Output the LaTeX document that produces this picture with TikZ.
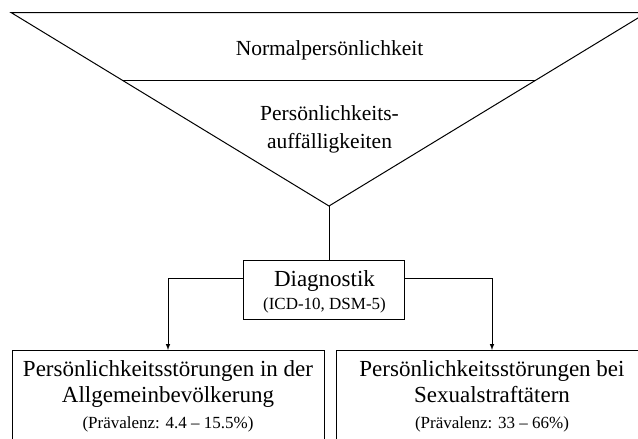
\documentclass[tikz,border=0pt]{standalone}
\usepackage{fontspec}
\setmainfont{Liberation Serif}
\usetikzlibrary{calc}
\newcommand{\bigtext}{\fontsize{23}{23}\selectfont}
\newcommand{\midtext}{\fontsize{21.5}{21.5}\selectfont}
\newcommand{\smalltext}{\fontsize{17}{17}\selectfont}

\begin{document}
\begin{tikzpicture}[x=1pt,y=-1pt,line width=1pt,outer sep=0,
    groupbox/.style={draw,inner sep=0,minimum width=312pt,minimum height=100pt,anchor=north}]
        \useasboundingbox (0,0) rectangle (638,439);
        \clip (0,0) rectangle (638,439);
        % Funnel
        \coordinate (TopLeft) at (11,12.5);
        \coordinate (TopRight) at (647,12.5);
        \coordinate (Apex) at (329,206);
        \draw (TopLeft) -- (TopRight) -- (Apex) -- cycle;
        \draw ($(TopLeft)!0.349!(Apex)$) -- ($(TopRight)!0.349!(Apex)$);
        \node[anchor=base] (Normal) at (329.5,55) {\midtext Normalpersönlichkeit};
        \node[anchor=base] (AuffA) at (329.5,120) {\midtext Persönlichkeits-};
        \node[anchor=base] (AuffB) at (329.5,148) {\midtext auffälligkeiten};
        % Diagnostik
        \node[draw,inner sep=0,minimum width=161pt,minimum height=59pt] (Diag) at (323.5,289.5) {};
        \node[anchor=base] (DiagA) at (324.5,286) {\bigtext Diagnostik};
        \node[anchor=base] (DiagB) at (324.5,309) {\smalltext (ICD-10, DSM-5)};
        % Groups
        \node[groupbox] (General) at (168,350) {};
        \node[anchor=base] (GeneralA) at (168,376) {\bigtext Persönlichkeitsstörungen in der};
        \node[anchor=base] (GeneralB) at (168,402) {\bigtext Allgemeinbevölkerung};
        \node[anchor=base] (GeneralC) at (168,428) {\smalltext (Prävalenz: 4.4 -- 15.5\%)};
        %
        \node[groupbox] (Offender) at (492,350) {};
        \node[anchor=base] (OffenderA) at (492,376) {\bigtext Persönlichkeitsstörungen bei};
        \node[anchor=base] (OffenderB) at (492,402) {\bigtext Sexualstraftätern};
        \node[anchor=base] (OffenderC) at (492,428) {\smalltext (Prävalenz: 33 -- 66\%)};
        % Connectors
        \draw (Apex) -- (Apex |- Diag.north);
        \draw[-latex] ($(Diag.west)+(0,-11.5)$) -| (General.north);
        \draw[-latex] ($(Diag.east)+(0,-11.5)$) -| (Offender.north);
    \end{tikzpicture}
\end{document}
